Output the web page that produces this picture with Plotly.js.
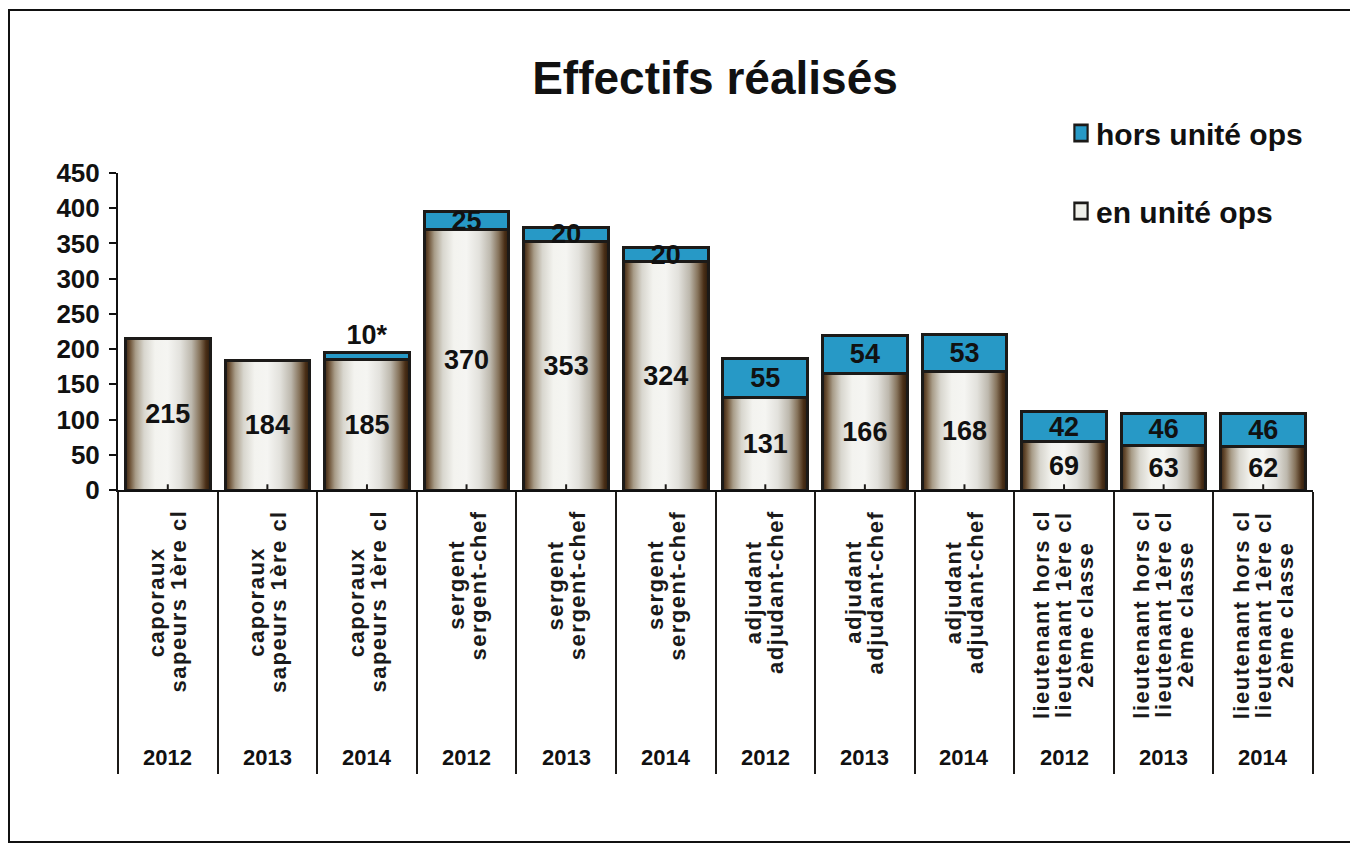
<!DOCTYPE html>
<html>
<head>
<meta charset="utf-8">
<script src="https://cdn.plot.ly/plotly-3.0.1.min.js"></script>
<style>
html,body{margin:0;padding:0;background:#fff;}
#chart{width:1350px;height:844px;}
</style>
</head>
<body>
<div id="chart"></div>
<script>
// ---- data ----
const years = ['2012','2013','2014','2012','2013','2014','2012','2013','2014','2012','2013','2014'];
const gradeLines = [
  ['caporaux','sapeurs 1ère cl'],
  ['caporaux','sapeurs 1ère cl'],
  ['caporaux','sapeurs 1ère cl'],
  ['sergent','sergent-chef'],
  ['sergent','sergent-chef'],
  ['sergent','sergent-chef'],
  ['adjudant','adjudant-chef'],
  ['adjudant','adjudant-chef'],
  ['adjudant','adjudant-chef'],
  ['lieutenant hors cl','lieutenant 1ère cl','2ème classe'],
  ['lieutenant hors cl','lieutenant 1ère cl','2ème classe'],
  ['lieutenant hors cl','lieutenant 1ère cl','2ème classe']
];
const enUnite   = [215,184,185,370,353,324,131,166,168,69,63,62];
const horsUnite = [0,0,10,25,20,20,55,54,53,42,46,46];
const horsNotes = ['','','*','','','','','','','','',''];
const yTicks = [0,50,100,150,200,250,300,350,400,450];

// unique category keys
const categories = gradeLines.map((g,i)=> g.join(' ') + ' ' + years[i]);

// ---- geometry helpers (layout only) ----
const W = 1350, H = 844;
const M = {l:118, r:37, t:173, b:354};
const plotH = H - M.t - M.b;
const pxToPaperY = px => (H - M.b - px) / plotH;
const plotW = W - M.l - M.r;
const pxToPaperX = px => (px - M.l) / plotW;

const labelFont = 'Liberation Sans, Arial, sans-serif';
const labelSize = 22, letterSp = 1.5, lineStep = 22;

const canvas = document.createElement('canvas');
const ctx = canvas.getContext('2d');
ctx.font = 'bold ' + labelSize + 'px "Liberation Sans"';
const measure = s => ctx.measureText(s).width + letterSp * s.length;

const blue = '#2799c6';

const traceEn = {
  type:'bar', name:'en unité ops', x: categories, y: enUnite,
  text: enUnite.map(String), textposition:'inside', insidetextanchor:'middle',
  constraintext:'none',
  textfont:{family:labelFont, size:27, color:'#111', weight:'bold'},
  marker:{color:'#efefe9', line:{color:'#1c1a18', width:3}},
  legendgroup:'en', legendrank:2, hoverinfo:'skip'
};
const traceHors = {
  type:'bar', name:'hors unité ops', x: categories, y: horsUnite,
  text: horsUnite.map((v,i)=> v>0 ? String(v)+horsNotes[i] : ''),
  textposition: horsNotes.map(n => n ? 'outside' : 'inside'),
  insidetextanchor:'middle', constraintext:'none', cliponaxis:false,
  textfont:{family:labelFont, size:27, color:'#111', weight:'bold'},
  marker:{color:blue, line:{color:'#1c1a18', width:3}},
  legendgroup:'hors', legendrank:1, hoverinfo:'skip'
};

const annotations = [];
const gradeAnnIdx = [];
categories.forEach((c,i)=>{
  const lines = gradeLines[i];
  const maxW = Math.max(...lines.map(measure));
  const centerPx = 510 + maxW/2;
  lines.forEach((ln,j)=>{
    gradeAnnIdx.push(annotations.length);
    annotations.push({
      x:c, xref:'x', y:pxToPaperY(centerPx), yref:'paper',
      text:ln, textangle:-90, showarrow:false,
      xanchor:'center', yanchor:'middle',
      xshift:(j-(lines.length-1)/2)*lineStep,
      font:{family:labelFont, size:labelSize, color:'#1a1a1a', weight:'bold'}
    });
  });
  annotations.push({
    x:c, xref:'x', y:pxToPaperY(757), yref:'paper',
    text:years[i], showarrow:false, xanchor:'center', yanchor:'middle',
    font:{family:labelFont, size:22, color:'#111', weight:'bold'}
  });
});

const shapes = [];
// small inner ticks at category centres
categories.forEach(c=>{
  shapes.push({type:'line', xref:'x', yref:'paper', x0:c, x1:c, y0:0, y1:0.018,
    line:{color:'#1c1a18', width:2}, layer:'above'});
});
// outer frame of the slide
shapes.push({type:'rect', xref:'paper', yref:'paper',
  x0:pxToPaperX(9), x1:pxToPaperX(1362), y0:pxToPaperY(842), y1:pxToPaperY(10),
  line:{color:'#111', width:2}, fillcolor:'rgba(0,0,0,0)', layer:'below'});

const layout = {
  width:W, height:H, autosize:false,
  margin:M,
  paper_bgcolor:'#fff', plot_bgcolor:'#fff',
  font:{family:labelFont, color:'#111'},
  barmode:'stack', bargap:0.15,
  showlegend:true,
  title:{text:'Effectifs réalisés', x:715/W, xanchor:'center', xref:'container',
         y:1-78/H, yanchor:'middle', yref:'container',
         font:{family:labelFont, size:46, color:'#111', weight:'bold'}},
  xaxis:{type:'category', categoryorder:'array', categoryarray:categories,
         showticklabels:false, tickson:'boundaries', ticks:'outside', ticklen:282,
         tickwidth:2, tickcolor:'#1c1a18', showline:true, linecolor:'#111', linewidth:2,
         showgrid:false, zeroline:false, range:[-0.5, 11.5], fixedrange:true},
  yaxis:{range:[0,450], tickvals:yTicks, ticktext:yTicks.map(String),
         ticks:'outside', ticklen:7, tickwidth:2, tickcolor:'#111', ticklabelstandoff:4,
         showline:true, linecolor:'#111', linewidth:2, showgrid:false, zeroline:false,
         tickfont:{family:labelFont, size:26, color:'#111', weight:'bold'}, fixedrange:true},
  legend:{x:pxToPaperX(1056), xanchor:'left', y:pxToPaperY(107), yanchor:'top',
          traceorder:'grouped', tracegroupgap:36,
          font:{family:labelFont, size:30, color:'#111', weight:'bold'},
          bgcolor:'rgba(0,0,0,0)', itemclick:false, itemdoubleclick:false},
  annotations:annotations,
  shapes:shapes
};

Plotly.newPlot('chart', [traceEn, traceHors], layout, {displayModeBar:false, staticPlot:true}).then(gd=>{
  // cylinder-like shading for the "en unité ops" bars
  const svgNS = 'http://www.w3.org/2000/svg';
  const defs = gd.querySelector('.main-svg defs');
  const grad = document.createElementNS(svgNS,'linearGradient');
  grad.setAttribute('id','enGrad');
  grad.setAttribute('x1','0'); grad.setAttribute('x2','1');
  grad.setAttribute('y1','0'); grad.setAttribute('y2','0');
  [[0,'#3a2412'],[0.05,'#6b5034'],[0.12,'#a89c88'],[0.22,'#d8d6ce'],[0.35,'#f3f3ef'],
   [0.5,'#f5f5f2'],[0.65,'#e2e1dc'],[0.78,'#bdb8ad'],[0.88,'#85725a'],[0.95,'#4a2f17'],[1,'#2e1c0c']].forEach(s=>{
    const st = document.createElementNS(svgNS,'stop');
    st.setAttribute('offset', s[0]); st.setAttribute('stop-color', s[1]);
    grad.appendChild(st);
  });
  defs.appendChild(grad);
  const tr = gd.querySelectorAll('.barlayer .trace')[0];
  tr.querySelectorAll('.point path').forEach(p=>{ p.style.fill = 'url(#enGrad)'; });
  // letter spacing for the grade labels
  gradeAnnIdx.forEach(k=>{
    const t = gd.querySelector('.annotation[data-index="'+k+'"] text');
    if(t) t.style.letterSpacing = letterSp + 'px';
  });
  // slightly larger legend swatches, closer to their text
  gd.querySelectorAll('.legend .legendpoints path').forEach(p=>{
    const old = p.getAttribute('transform') || '';
    p.setAttribute('transform', old + ' translate(5,0) scale(1.1,1.35)');
    p.style.strokeWidth = '2px';
  });
});
</script>
</body>
</html>
